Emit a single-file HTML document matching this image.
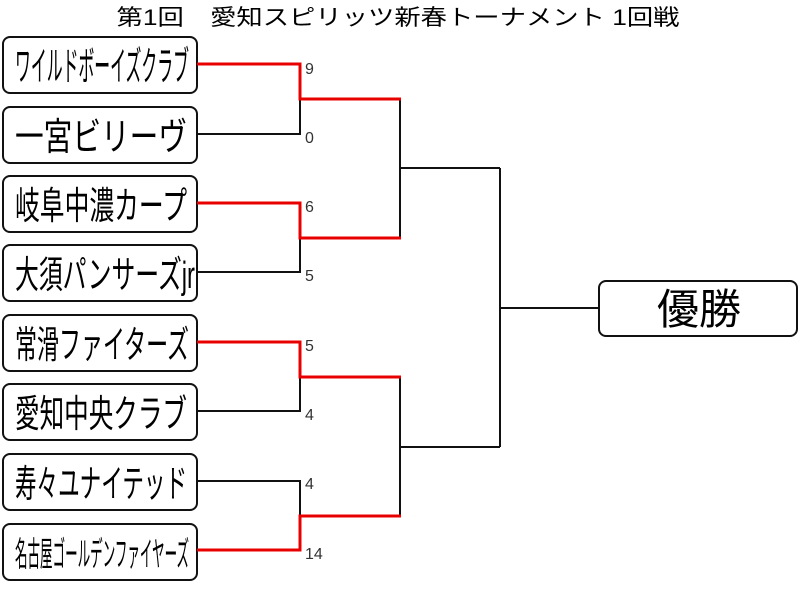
<!DOCTYPE html>
<html><head><meta charset="utf-8"><style>
html,body{margin:0;padding:0;background:#fff;}
svg{display:block;}
</style></head><body>
<svg width="800" height="594" viewBox="0 0 800 594" xmlns="http://www.w3.org/2000/svg" font-family="'Liberation Sans','Noto Sans CJK JP',sans-serif">
<text x="398" y="25" font-size="22" text-anchor="middle" textLength="563" lengthAdjust="spacingAndGlyphs">第1回　愛知スピリッツ新春トーナメント 1回戦</text>
<g fill="#fff" stroke="#111" stroke-width="2">
<rect x="3" y="37" width="194" height="56" rx="7"/>
<rect x="3" y="107" width="194" height="56" rx="7"/>
<rect x="3" y="176" width="194" height="56" rx="7"/>
<rect x="3" y="245" width="194" height="56" rx="7"/>
<rect x="3" y="315" width="194" height="56" rx="7"/>
<rect x="3" y="384" width="194" height="56" rx="7"/>
<rect x="3" y="454" width="194" height="56" rx="7"/>
<rect x="3" y="524" width="194" height="56" rx="7"/>
<rect x="599" y="281" width="198" height="55" rx="7"/>
</g>
<g font-size="38">
<text x="15" y="80" font-size="40" textLength="174" lengthAdjust="spacingAndGlyphs">ワイルドボーイズクラブ</text>
<text x="15" y="150" textLength="172" lengthAdjust="spacingAndGlyphs">一宮ビリーヴ</text>
<text x="15" y="219" textLength="172" lengthAdjust="spacingAndGlyphs">岐阜中濃カープ</text>
<text x="15" y="288" textLength="180" lengthAdjust="spacingAndGlyphs">大須パンサーズjr</text>
<text x="15" y="358" textLength="174" lengthAdjust="spacingAndGlyphs">常滑ファイターズ</text>
<text x="15" y="427" textLength="172" lengthAdjust="spacingAndGlyphs">愛知中央クラブ</text>
<text x="15" y="497" textLength="172" lengthAdjust="spacingAndGlyphs">寿々ユナイテッド</text>
<text x="15" y="566" font-size="34" textLength="174" lengthAdjust="spacingAndGlyphs">名古屋ゴールデンファイヤーズ</text>
</g>
<text x="699" y="324" font-size="42" text-anchor="middle">優勝</text>
<g fill="none" stroke="#111" stroke-width="2">
<polyline points="197,134 300,134 300,99"/>
<polyline points="197,272 300,272 300,238"/>
<polyline points="197,411 300,411 300,377"/>
<polyline points="197,481 300,481 300,516"/>
<polyline points="400,99 400,238"/>
<polyline points="400,377 400,516"/>
<polyline points="400,168 500,168"/>
<polyline points="400,447 500,447"/>
<polyline points="500,168 500,447"/>
<polyline points="500,308 599,308"/>
</g>
<g fill="none" stroke="#e80000" stroke-width="3">
<polyline points="197,64 300,64 300,99 401,99"/>
<polyline points="197,203 300,203 300,238 401,238"/>
<polyline points="197,342 300,342 300,377 401,377"/>
<polyline points="197,550 300,550 300,516 401,516"/>
</g>
<g font-size="16" fill="#333">
<text x="305" y="74">9</text>
<text x="305" y="143">0</text>
<text x="305" y="212">6</text>
<text x="305" y="281">5</text>
<text x="305" y="351">5</text>
<text x="305" y="420">4</text>
<text x="305" y="489">4</text>
<text x="305" y="559">14</text>
</g>
</svg>
</body></html>
